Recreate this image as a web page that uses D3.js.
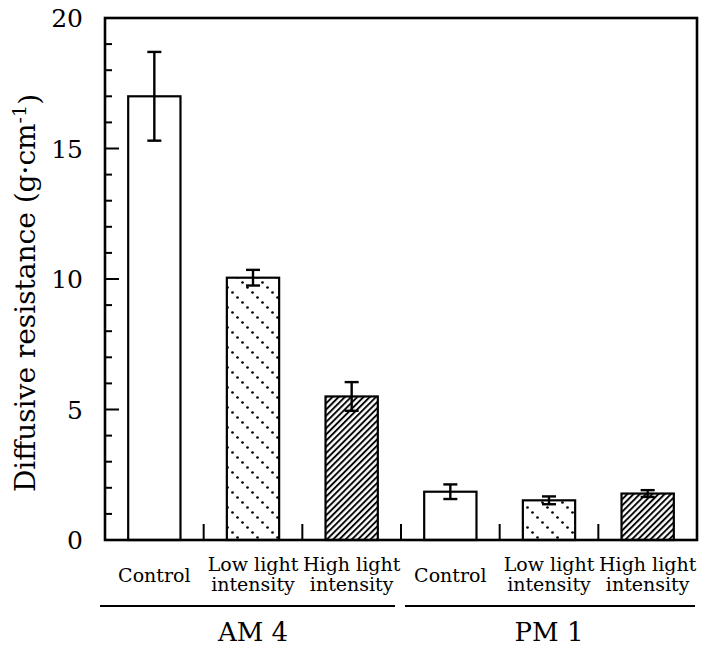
<!DOCTYPE html>
<html>
<head>
<meta charset="utf-8">
<script src="https://cdn.jsdelivr.net/npm/d3@7"></script>
<style>
  html, body { margin: 0; padding: 0; background: #fff; }
  svg { display: block; }
  text { font-family: "DejaVu Serif", "Liberation Serif", serif; fill: #000; }
</style>
</head>
<body>
<svg id="chart" width="711" height="649"></svg>
<script>
// ---- data ----
const groups = ["AM 4", "PM 1"];
const treatments = ["Control", "Low light intensity", "High light intensity"];
const treatmentLines = [["Control"], ["Low light", "intensity"], ["High light", "intensity"]];
const values = [17.0, 10.05, 5.5, 1.85, 1.52, 1.78];
const errors = [1.7, 0.3, 0.55, 0.28, 0.15, 0.13];
const yTicks = [0, 5, 10, 15, 20];
const yMinorTicks = d3.range(0, 21, 1);
const yTitle = "Diffusive resistance (g\u00B7cm";
const yTitleSup = "-1";

// ---- layout ----
const svg = d3.select("#chart");
const L = 105, R = 697, T = 18, B = 540;

const cats = [];
groups.forEach((g, gi) => treatments.forEach((t, ti) => cats.push({ id: gi + "-" + ti, group: g, gi, ti })));
cats.forEach((c, i) => { c.value = values[i]; c.err = errors[i]; });

const x = d3.scaleBand().domain(cats.map(c => c.id)).range([L, R]).padding(0);
const y = d3.scaleLinear().domain([0, 20]).range([B, T]);
const barW = x.bandwidth() * 0.53;

// patterns
const defs = svg.append("defs");
const dots = defs.append("pattern").attr("id", "dots").attr("patternUnits", "userSpaceOnUse")
  .attr("width", 20).attr("height", 20);
[[2.5, 2.5], [7.5, 7.5], [12.5, 12.5], [17.5, 17.5]].forEach(p =>
  dots.append("circle").attr("cx", p[0]).attr("cy", p[1]).attr("r", 1.35).attr("fill", "#000"));
const hatch = defs.append("pattern").attr("id", "hatch").attr("patternUnits", "userSpaceOnUse")
  .attr("width", 4.4).attr("height", 10).attr("patternTransform", "rotate(45)");
hatch.append("line").attr("x1", 1).attr("x2", 1).attr("y1", 0).attr("y2", 10)
  .attr("stroke", "#000").attr("stroke-width", 1.9);
const fills = ["#fff", "url(#dots)", "url(#hatch)"];

// bars
svg.append("g").selectAll("rect").data(cats).join("rect")
  .attr("x", d => x(d.id) + x.bandwidth() / 2 - barW / 2)
  .attr("y", d => y(d.value))
  .attr("width", barW)
  .attr("height", d => y(0) - y(d.value))
  .attr("fill", d => fills[d.ti])
  .attr("stroke", "#000").attr("stroke-width", 2.2);

// error bars
const eb = svg.append("g").attr("stroke", "#000").attr("stroke-width", 2.4);
cats.forEach(d => {
  const cx = x(d.id) + x.bandwidth() / 2;
  eb.append("line").attr("x1", cx).attr("x2", cx).attr("y1", y(d.value + d.err)).attr("y2", y(d.value - d.err));
  [d.value + d.err, d.value - d.err].forEach(v =>
    eb.append("line").attr("x1", cx - 7).attr("x2", cx + 7).attr("y1", y(v)).attr("y2", y(v)));
});

// frame
svg.append("rect").attr("x", L).attr("y", T).attr("width", R - L).attr("height", B - T)
  .attr("fill", "none").attr("stroke", "#000").attr("stroke-width", 2.6);

// y axis ticks (inside)
const ya = svg.append("g").attr("stroke", "#000").attr("stroke-width", 2);
yMinorTicks.filter(v => v > 0 && v < 20).forEach(v => {
  const len = yTicks.includes(v) ? 14 : 7;
  ya.append("line").attr("x1", L).attr("x2", L + len).attr("y1", y(v)).attr("y2", y(v));
});
svg.append("g").selectAll("text").data(yTicks).join("text")
  .attr("x", 83).attr("y", d => y(d)).attr("dy", "0.36em")
  .attr("text-anchor", "end").attr("font-size", 25).text(d => d);

// x boundary ticks (inside, upward)
const xa = svg.append("g").attr("stroke", "#000").attr("stroke-width", 2);
cats.slice(1).forEach(d => {
  const bx = x(d.id);
  xa.append("line").attr("x1", bx).attr("x2", bx).attr("y1", B).attr("y2", B - 16);
});

// category labels
cats.forEach(d => {
  const cx = x(d.id) + x.bandwidth() / 2;
  const lines = treatmentLines[d.ti];
  const t = svg.append("text").attr("text-anchor", "middle").attr("font-size", 19);
  if (lines.length === 1) {
    t.attr("x", cx).attr("y", 582).text(lines[0]);
  } else {
    t.append("tspan").attr("x", cx).attr("y", 571).text(lines[0]);
    t.append("tspan").attr("x", cx).attr("y", 591).text(lines[1]);
  }
});

// group lines and labels
groups.forEach((g, gi) => {
  const ids = cats.filter(c => c.gi === gi).map(c => c.id);
  const s = x(ids[0]), e = x(ids[ids.length - 1]) + x.bandwidth();
  const x0 = s + (gi === 0 ? -5 : 4), x1 = e - (gi === 0 ? 6 : 2);
  svg.append("line").attr("x1", x0).attr("x2", x1).attr("y1", 606).attr("y2", 606)
    .attr("stroke", "#000").attr("stroke-width", 2);
  svg.append("text").attr("x", (s + e) / 2)
    .attr("y", 641).attr("text-anchor", "middle").attr("font-size", 26).text(g);
});

// y title
const yt = svg.append("text").attr("transform", "translate(35,293) rotate(-90)")
  .attr("text-anchor", "middle").attr("font-size", 28);
yt.append("tspan").text(yTitle);
yt.append("tspan").attr("dy", "-0.45em").attr("font-size", 19).text(yTitleSup);
yt.append("tspan").attr("dy", "0.45em").text(")");
</script>
</body>
</html>
